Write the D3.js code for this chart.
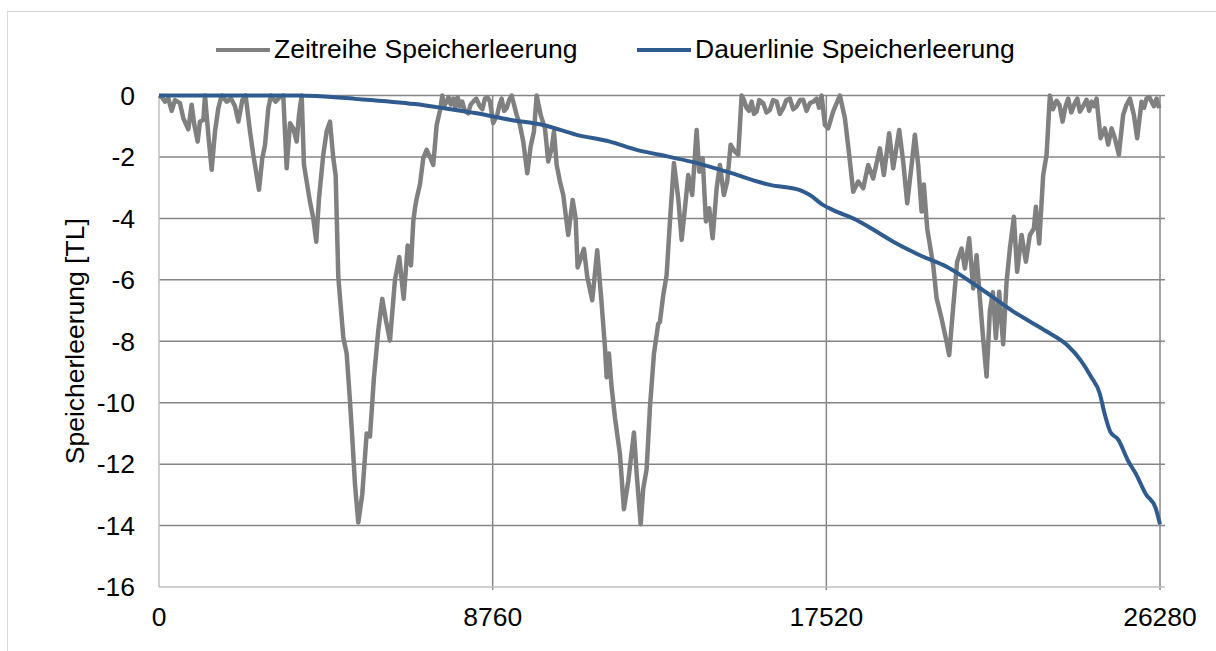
<!DOCTYPE html>
<html>
<head>
<meta charset="utf-8">
<script src="https://cdn.jsdelivr.net/npm/d3@7"></script>
<style>
  body { margin: 0; background: #fff; }
  text { font-family: "Liberation Sans", Arial, sans-serif; fill: #000; }
</style>
</head>
<body>
<div class="canvas"></div>
<script>
// Zeitreihe (time series): [hour, value]
const zeitreihe = [
	[0,0],[70,-0.05],[158,-0.2],[245,-0.1],[333,-0.5],[420,-0.15],[551,-0.25],[639,-0.74],[770,-1.1],[857,-0.3],
	[927,-0.95],[1015,-1.5],[1076,-0.85],[1164,-0.8],[1208,0],[1295,-1.28],[1383,-2.42],[1470,-1.17],[1558,-0.41],[1645,0],
	[1776,-0.2],[1890,-0.1],[1995,-0.35],[2083,-0.85],[2188,-0.15],[2275,0],[2389,-1.17],[2476,-1.93],[2625,-3.07],[2712,-2.04],
	[2783,-1.61],[2870,-0.41],[2940,0],[3060,-0.2],[3176,-0.05],[3263,0],[3352,-2.37],[3439,-0.9],[3525,-1.07],[3615,-1.5],
	[3675,-0.63],[3746,0],[3806,-2.26],[3877,-2.8],[3964,-3.46],[4051,-4.0],[4129,-4.76],[4200,-3.35],[4313,-1.93],[4402,-1.17],
	[4489,-0.85],[4576,-2.04],[4638,-2.6],[4707,-5.9],[4838,-7.87],[4927,-8.4],[4995,-9.6],[5058,-10.8],[5145,-12.65],[5232,-13.9],
	[5337,-12.98],[5452,-11.0],[5539,-11.1],[5644,-9.17],[5757,-7.65],[5862,-6.62],[5959,-7.33],[6064,-7.98],[6195,-6.0],[6308,-5.26],
	[6423,-6.62],[6529,-4.88],[6615,-5.53],[6676,-4.1],[6720,-3.67],[6765,-3.35],[6851,-2.9],[6938,-2.04],[7027,-1.77],[7114,-2.0],
	[7200,-2.26],[7290,-0.96],[7376,-0.5],[7437,0],[7480,-0.35],[7552,-0.2],[7600,-0.05],[7660,-0.3],[7725,-0.1],[7780,-0.4],
	[7840,-0.05],[7901,-0.36],[7960,-0.2],[8030,-0.5],[8119,-0.58],[8180,-0.3],[8250,-0.2],[8330,-0.1],[8426,-0.36],[8490,-0.45],
	[8558,-0.1],[8620,-0.05],[8689,-0.2],[8775,-0.9],[8880,-0.63],[8940,-0.3],[8996,-0.1],[9060,-0.5],[9127,-0.41],[9190,-0.15],
	[9258,0],[9390,-0.63],[9476,-0.96],[9563,-1.5],[9668,-2.53],[9757,-1.66],[9844,-1.17],[9915,0],[10020,-0.63],[10133,-1.07],
	[10219,-2.15],[10309,-1.72],[10369,-1.17],[10440,-2.26],[10526,-2.8],[10613,-3.24],[10744,-4.54],[10860,-3.4],[10938,-4.0],[10990,-5.6],
	[11156,-4.99],[11243,-5.9],[11374,-6.67],[11505,-5.04],[11621,-6.78],[11708,-8.2],[11752,-9.17],[11813,-8.4],[11883,-9.5],[11970,-10.48],
	[12101,-11.67],[12206,-13.47],[12320,-12.55],[12469,-10.97],[12540,-12.3],[12645,-13.96],[12713,-12.8],[12802,-12.16],[12889,-10.15],[12994,-8.41],
	[13107,-7.43],[13151,-7.37],[13238,-6.5],[13327,-5.85],[13414,-4.1],[13519,-2.2],[13632,-3.35],[13721,-4.7],[13808,-3.67],[13894,-2.59],
	[13999,-3.24],[14115,-1.12],[14183,-2.48],[14272,-2.04],[14359,-4.1],[14446,-3.67],[14535,-4.65],[14640,-3.02],[14726,-2.26],[14831,-3.24],
	[14918,-2.8],[15007,-1.6],[15120,-1.83],[15207,-1.93],[15296,0],[15360,-0.15],[15427,-0.41],[15490,-0.5],[15559,-0.2],[15620,-0.6],
	[15690,-0.52],[15760,-0.15],[15863,-0.25],[15950,-0.55],[16039,-0.47],[16120,-0.15],[16215,-0.2],[16300,-0.6],[16388,-0.41],[16470,-0.15],
	[16564,-0.1],[16650,-0.45],[16740,-0.36],[16830,-0.15],[16913,-0.14],[17000,-0.5],[17089,-0.25],[17180,-0.2],[17265,-0.1],[17330,-0.4],
	[17396,0],[17483,-0.96],[17569,-1.07],[17700,-0.52],[17876,0],[18008,-0.74],[18120,-1.93],[18225,-3.13],[18357,-2.8],[18488,-3.02],
	[18619,-2.26],[18750,-2.7],[18926,-1.72],[19031,-2.59],[19170,-1.23],[19275,-2.37],[19433,-1.12],[19538,-2.15],[19643,-3.51],[19759,-2.26],
	[19845,-1.28],[19932,-2.26],[20021,-3.78],[20081,-2.9],[20168,-4.33],[20239,-4.87],[20325,-5.52],[20415,-6.6],[20546,-7.26],[20677,-8.02],
	[20745,-8.45],[20850,-6.9],[20955,-5.41],[21071,-4.98],[21158,-5.63],[21270,-4.65],[21375,-6.28],[21464,-5.2],[21551,-6.6],[21643,-8.0],
	[21727,-9.15],[21814,-7.0],[21893,-6.4],[21971,-7.9],[22058,-6.39],[22163,-8.1],[22252,-6.07],[22339,-4.98],[22444,-3.95],[22530,-5.74],
	[22646,-4.54],[22759,-5.41],[22864,-4.54],[22969,-4.33],[23021,-3.62],[23108,-4.82],[23213,-2.59],[23302,-1.93],[23389,0],[23470,-0.45],
	[23565,-0.17],[23640,-0.3],[23722,-0.85],[23800,-0.35],[23869,-0.1],[23950,-0.55],[24045,-0.25],[24110,-0.1],[24176,-0.52],[24260,-0.35],
	[24352,-0.14],[24420,-0.5],[24483,-0.2],[24550,-0.35],[24614,-0.1],[24720,-1.39],[24833,-1.07],[24920,-1.6],[25009,-1.07],[25095,-1.39],
	[25200,-1.93],[25313,-0.63],[25400,-0.3],[25489,-0.1],[25594,-0.63],[25681,-1.39],[25796,-0.2],[25860,-0.4],[25927,-0.1],[26000,-0.05],
	[26059,-0.2],[26120,-0.35],[26190,-0.1],[26260,-0.41]
];

// Dauerlinie (duration curve): [hour, value]
const dauerlinie = [
	[0,0],[3650,0],[5145,-0.11],[6720,-0.28],[7463,-0.41],[8340,-0.58],[9214,-0.79],[10088,-0.96],[10965,-1.28],[11839,-1.5],
	[12540,-1.77],[13151,-1.93],[14025,-2.17],[14902,-2.48],[16039,-2.91],[16826,-3.08],[17089,-3.24],[17440,-3.57],[17700,-3.73],[18313,-4.05],
	[18838,-4.43],[19363,-4.82],[19976,-5.2],[20702,-5.59],[21578,-6.29],[22453,-7.05],[23329,-7.7],[23854,-8.14],[24204,-8.63],[24462,-9.14],
	[24698,-9.7],[24824,-10.35],[24977,-10.95],[25184,-11.2],[25441,-11.89],[25649,-12.32],[25906,-12.97],[26163,-13.42],[26280,-13.96]
];

const xTicks = [0, 8760, 17520, 26280];
const yTicks = [0, -2, -4, -6, -8, -10, -12, -14, -16];
const seriesNames = ['Zeitreihe Speicherleerung', 'Dauerlinie Speicherleerung'];
const seriesColours = ['#808080', '#2f5b8f'];
const yTitle = 'Speicherleerung [TL]';

const dims = {width: 1216, height: 651};
const plot = {left: 159, right: 1160, top: 95.5, bottom: 587};

const svg = d3.select('.canvas')
	.append('svg')
	.attr('width', dims.width)
	.attr('height', dims.height);

// chart border (runs off the right and bottom edge)
svg.append('rect')
	.attr('x', 7.5)
	.attr('y', 11.5)
	.attr('width', 1400)
	.attr('height', 800)
	.attr('fill', '#fff')
	.attr('stroke', '#d9d9d9');

const x = d3.scaleLinear().domain([0, 26280]).range([plot.left, plot.right]);
const y = d3.scaleLinear().domain([-16, 0]).range([plot.bottom, plot.top]);

// gridlines
svg.append('g').selectAll('line')
	.data(yTicks.filter(d => d > -16))
	.enter().append('line')
		.attr('x1', plot.left).attr('x2', plot.right + 5)
		.attr('y1', d => y(d)).attr('y2', d => y(d))
		.attr('stroke', '#868686').attr('stroke-width', 1.5);

svg.append('g').selectAll('line')
	.data(xTicks.filter(d => d > 0))
	.enter().append('line')
		.attr('x1', d => x(d)).attr('x2', d => x(d))
		.attr('y1', plot.top).attr('y2', plot.bottom + 3)
		.attr('stroke', '#868686').attr('stroke-width', 1.5);

// axis lines
svg.append('line')
	.attr('x1', plot.left).attr('x2', plot.right + 5)
	.attr('y1', plot.bottom).attr('y2', plot.bottom)
	.attr('stroke', '#bfbfbf').attr('stroke-width', 1.5);
svg.append('line')
	.attr('x1', plot.left).attr('x2', plot.left)
	.attr('y1', plot.top).attr('y2', plot.bottom)
	.attr('stroke', '#bfbfbf').attr('stroke-width', 1.5);

// tick labels
svg.append('g').selectAll('text')
	.data(yTicks)
	.enter().append('text')
		.attr('x', 135)
		.attr('y', d => y(d))
		.attr('dy', '0.35em')
		.attr('text-anchor', 'end')
		.attr('font-size', 26.5)
		.text(d => d);

svg.append('g').selectAll('text')
	.data(xTicks)
	.enter().append('text')
		.attr('x', d => x(d))
		.attr('y', 626)
		.attr('text-anchor', 'middle')
		.attr('font-size', 26.5)
		.text(d => d);

// y title
svg.append('text')
	.attr('transform', `translate(84, ${(plot.top + plot.bottom) / 2}) rotate(-90)`)
	.attr('text-anchor', 'middle')
	.attr('font-size', 26.5)
	.text(yTitle);

// lines
const line = d3.line()
	.x(d => x(d[0]))
	.y(d => y(d[1]));

svg.append('path')
	.datum(zeitreihe)
	.attr('fill', 'none')
	.attr('stroke', seriesColours[0])
	.attr('stroke-width', 4.5)
	.attr('stroke-linejoin', 'round')
	.attr('d', line);

svg.append('path')
	.datum(dauerlinie)
	.attr('fill', 'none')
	.attr('stroke', seriesColours[1])
	.attr('stroke-width', 4)
	.attr('stroke-linejoin', 'round')
	.attr('d', line.curve(d3.curveMonotoneX));

// legend
const legendX = [216, 637];
const legend = svg.append('g').selectAll('g')
	.data(seriesNames)
	.enter().append('g')
		.attr('transform', (d, i) => `translate(${legendX[i]}, 50)`);

legend.append('line')
	.attr('x1', 0).attr('x2', 54)
	.attr('stroke', (d, i) => seriesColours[i])
	.attr('stroke-width', 4);

legend.append('text')
	.attr('x', 58)
	.attr('y', 8)
	.attr('font-size', 26.5)
	.text(d => d);
</script>
</body>
</html>
